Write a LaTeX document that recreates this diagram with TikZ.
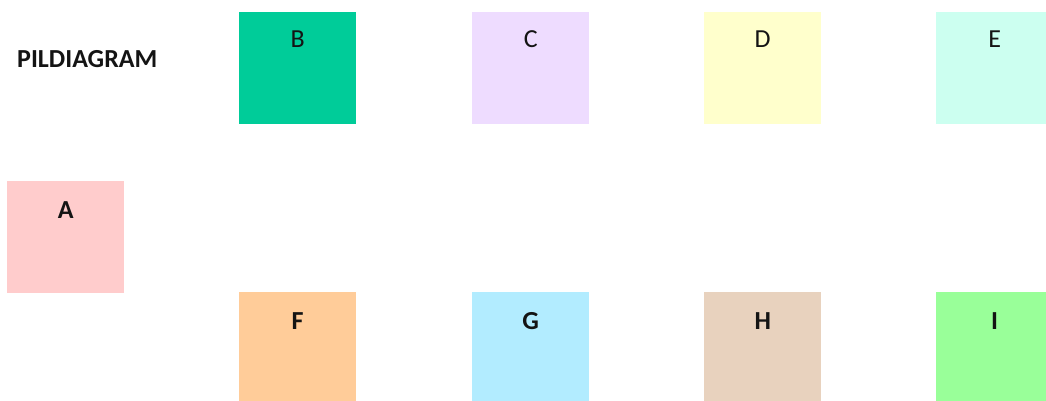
\documentclass[tikz,border=0pt]{standalone}
\usepackage{fontspec}
\setmainfont{Carlito}
\usetikzlibrary{positioning}
\definecolor{tileA}{RGB}{255, 204, 204}
\definecolor{tileB}{RGB}{0, 204, 153}
\definecolor{tileC}{RGB}{238, 220, 255}
\definecolor{tileD}{RGB}{255, 255, 204}
\definecolor{tileE}{RGB}{204, 255, 240}
\definecolor{tileF}{RGB}{255, 204, 153}
\definecolor{tileG}{RGB}{178, 236, 255}
\definecolor{tileH}{RGB}{232, 210, 190}
\definecolor{tileI}{RGB}{153, 255, 153}
\newcommand{\tilefont}{\fontsize{26}{30}\selectfont}
\tikzset{
  % Plain coloured square, placed by its top left corner.
  tile/.style={
    rectangle, fill=#1, draw=none,
    minimum width=117pt, minimum height=112pt,
    inner sep=0pt, anchor=north west,
  },
  % Letter near the top of each square.
  tile-label/.style={font=\tilefont, anchor=base, text=black!92},
  tile-label-bold/.style={tile-label, font=\tilefont\bfseries},
}
\begin{document}
\begin{tikzpicture}[x=1pt, y=-1pt]
  \useasboundingbox (0,0) rectangle (1046,401);
  \clip (0,0) rectangle (1046,401);

  % Title.
  \node[font=\tilefont\bfseries, anchor=base west, inner sep=0pt, text=black!92]
    (title) at (17,68) {PILDIAGRAM};

  % Top row.
  \node[tile=tileB] (B) at (239,12) {};
  \node[tile=tileC] (C) at (472,12) {};
  \node[tile=tileD] (D) at (704,12) {};
  \node[tile=tileE] (E) at (936,12) {};
  \node[tile-label] (B-lab) at ([yshift=-36pt]B.north) {B};
  \node[tile-label] (C-lab) at ([yshift=-36pt]C.north) {C};
  \node[tile-label] (D-lab) at ([yshift=-36pt]D.north) {D};
  \node[tile-label] (E-lab) at ([yshift=-36pt]E.north) {E};

  % Left square.
  \node[tile=tileA] (A) at (7,181) {};
  \node[tile-label-bold] (A-lab) at ([yshift=-37pt]A.north) {A};

  % Bottom row.
  \node[tile=tileF] (F) at (239,292) {};
  \node[tile=tileG] (G) at (472,292) {};
  \node[tile=tileH] (H) at (704,292) {};
  \node[tile=tileI] (I) at (936,292) {};
  \node[tile-label-bold] (F-lab) at ([yshift=-37pt]F.north) {F};
  \node[tile-label-bold] (G-lab) at ([yshift=-37pt]G.north) {G};
  \node[tile-label-bold] (H-lab) at ([yshift=-37pt]H.north) {H};
  \node[tile-label-bold] (I-lab) at ([yshift=-37pt]I.north) {I};

\end{tikzpicture}
\end{document}
